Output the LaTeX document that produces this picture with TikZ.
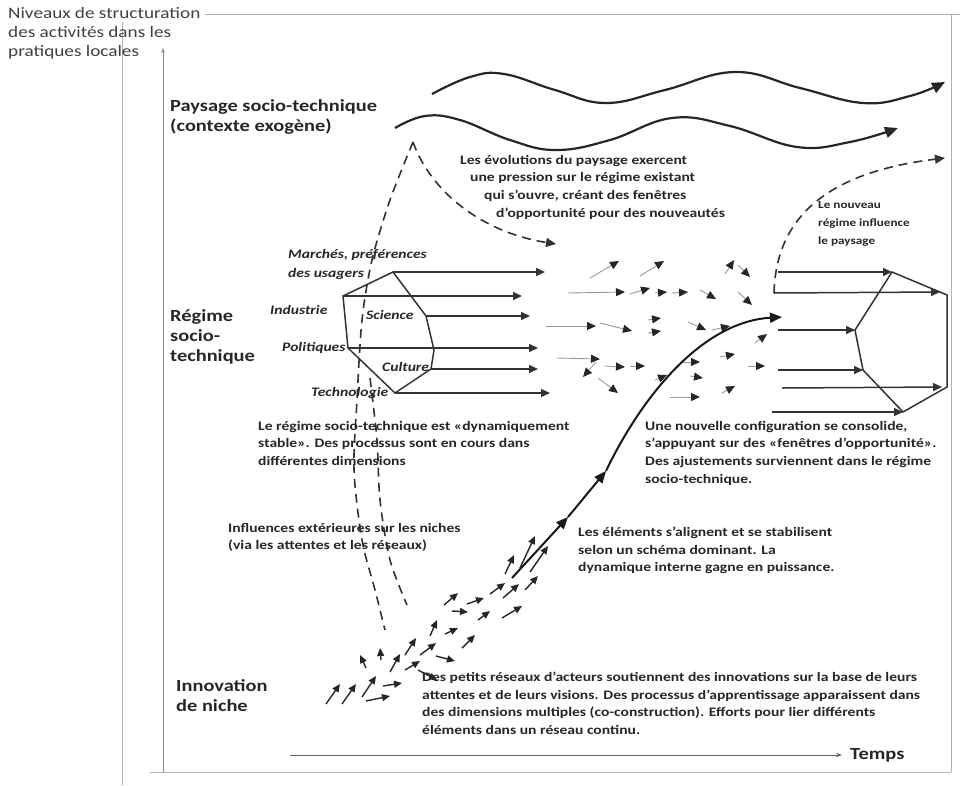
\documentclass[tikz,border=0pt]{standalone}
\usepackage{fontspec}
\setmainfont{Carlito}[FakeStretch=1.2]
\usetikzlibrary{positioning, arrows.meta}

\begin{document}
\begin{tikzpicture}[
    x=1pt, y=-1pt,
    cadre/.style={draw=black!30, line width=0.9pt},
    niveau/.style={anchor=north west, align=left, inner sep=0pt,
      font=\fontsize{17}{20}\selectfont\bfseries, text=black!85},
    note/.style={anchor=north west, align=left, inner sep=0pt,
      font=\fontsize{13}{17.6}\selectfont\bfseries, text=black!85},
    dimension/.style={anchor=west, align=left, inner sep=0pt,
      font=\fontsize{13}{19}\selectfont\bfseries\itshape, text=black!85},
    vague/.style={black!85, line width=2.2pt, -{Triangle[length=13pt,width=11pt]}},
    influence/.style={black!80, line width=1.6pt, dash pattern=on 9pt off 6pt},
    flux/.style={black!80, line width=1.5pt, -{Triangle[length=9pt,width=8pt]}},
    essaim/.style={black!40, line width=0.9pt,
      -{Triangle[length=9pt,width=8pt,color=black!85]}},
    pousse/.style={black!85, line width=1.4pt, -{Triangle[length=8pt,width=7pt]}},
    trajet/.style={black!90, line width=2pt, -{Triangle[length=12pt,width=10pt]}},
    bord/.style={draw=black!80, line width=1.5pt}
    ]
    \useasboundingbox (0,0) rectangle (960,785);

    % Cadre et axes
    \draw[cadre] (205,14) -- (960,14);
    \draw[cadre] (951,14) -- (951,772);
    \draw[cadre] (150,772) -- (951,772);
    \draw[cadre] (122,22) -- (122,785);
    \coordinate (axe0) at (163,772);
    \coordinate (axe1) at (163,48);
    \draw[black!45, line width=0.9pt, -{Stealth[length=5pt,width=4pt]}] (axe0) -- (axe1);
    \node[anchor=north west, align=left, inner sep=0pt, text=black!75,
      font=\fontsize{16}{19}\selectfont] (axeTitre) at (8,7)
    {Niveaux de structuration\\des activités dans les\\pratiques locales};

    \coordinate (t0) at (290,755);
    \coordinate (t1) at (842,755);
    \draw[black!60, line width=1pt, -{Stealth[length=6pt]}] (t0) -- (t1);
    \node[niveau, right=8pt of t1] (temps) {Temps};

    % Niveaux
    \node[niveau] (paysage) at (170,99) {Paysage socio-technique\\(contexte exogène)};
    \node[niveau] (regime) at (170,309) {Régime\\socio-\\technique};
    \node[niveau] (innovation) at (176,679) {Innovation\\de niche};

    % Paysage
    \draw[vague] plot[smooth, tension=0.7] coordinates {(432,94) (470,77) (504,74)
      (555,90) (606,103) (665,90) (735,72) (800,88) (863,103) (910,96) (945,82)};
    \draw[vague] plot[smooth, tension=0.7] coordinates {(395,128) (425,116) (460,120)
      (510,140) (556,150) (610,140) (672,118) (730,126) (797,147) (850,142) (898,128)};

    % Influences du paysage
    \coordinate (pBas) at (413,142);
    \coordinate (pRegime) at (556,244);
    \draw[influence, -{Triangle[length=10pt,width=9pt]}] (pBas)
    .. controls (430,190) and (480,232) .. (pRegime);
    \draw[influence] plot[smooth] coordinates {(pBas) (390,200) (372,260) (362,320)
      (357,400) (354,470) (362,540) (375,590) (385,630)};
    \draw[influence] plot[smooth] coordinates {(370,378) (377,440) (380,500)
      (390,560) (407,605)};

    % Regime existant
    \coordinate (g1) at (393,272);
    \coordinate (g2) at (426,316);
    \coordinate (g3) at (434,350);
    \coordinate (g4) at (431,369);
    \coordinate (g5) at (395,393);
    \coordinate (g6) at (348,348);
    \coordinate (g7) at (343,296);
    \draw[bord] (g1) -- (g2) -- (g3) -- (g4) -- (g5) -- (g6) -- (g7) -- cycle;

    \coordinate (e1) at (545,272);
    \coordinate (e2) at (522,296);
    \coordinate (e3) at (530,316);
    \coordinate (e4) at (538,348);
    \coordinate (e5) at (538,369);
    \coordinate (e6) at (550,393);
    \draw[flux] (g1) -- (e1);
    \draw[flux] (g7) -- (e2);
    \draw[flux] (g2) -- (e3);
    \draw[flux] (g6) -- (e4);
    \draw[flux] (g4) -- (e5);
    \draw[flux] (g5) -- (e6);

    \node[dimension, anchor=north west] (marches) at (288,249)
    {Marchés, préférences\\des usagers};
    \node[dimension] (industrie) at (270,310) {Industrie};
    \node[dimension] (science) at (366,315) {Science};
    \node[dimension] (politiques) at (282,348) {Politiques};
    \node[dimension] (culture) at (382,367) {Culture};
    \node[dimension] (technologie) at (311,393) {Technologie};

    % Essaim
    \foreach \xa/\ya/\xb/\yb in {590/278/619/261, 640/276/664/261, 725/274/734/260,
      738/265/750/277, 568/293/625/292, 630/294/650/288, 655/293/667/292,
      672/293/688/292, 700/290/716/299, 738/292/752/305, 546/326/596/326,
      600/323/632/331, 648/320/661/318, 648/333/661/331, 688/322/706/330,
      712/330/730/326, 755/343/767/334, 557/358/600/359, 596/362/583/377,
      605/366/625/367, 630/366/645/366, 598/378/618/393, 655/380/667/375,
      680/362/700/362, 690/376/703/378, 670/397/700/397, 720/357/735/354,
      748/366/765/366, 722/393/735/386}
    \draw[essaim] (\xa,\ya) -- (\xb,\yb);

    % Nouveau regime
    \coordinate (n1) at (892,272);
    \coordinate (n2) at (947,295);
    \coordinate (n3) at (947,387);
    \coordinate (n4) at (903,412);
    \coordinate (n5) at (863,370);
    \coordinate (n6) at (855,330);
    \draw[bord] (n1) -- (n2) -- (n3) -- (n4) -- (n5) -- (n6) -- cycle;

    \coordinate (s1) at (778,272);
    \coordinate (s2) at (774,293);
    \coordinate (s3) at (778,330);
    \coordinate (s4) at (778,370);
    \coordinate (s5) at (782,388);
    \coordinate (s6) at (772,412);
    \coordinate (n12) at (940,292);
    \coordinate (n23) at (942,387);
    \draw[flux] (s1) -- (n1);
    \draw[flux] (s2) -- (n12);
    \draw[flux] (s3) -- (n6);
    \draw[flux] (s4) -- (n5);
    \draw[flux] (s5) -- (n23);
    \draw[flux] (s6) -- (n4);

    \coordinate (pHaut) at (945,158);
    \draw[influence, -{Triangle[length=10pt,width=9pt]}] (s2)
    .. controls (776,215) and (830,172) .. (pHaut);

    % Niches
    \foreach \xa/\ya/\xb/\yb in {326/704/340/684, 342/704/356/684, 362/697/376/676,
      366/701/390/696, 383/686/402/683, 366/668/360/655, 381/660/380/648,
      390/672/400/654, 405/655/416/638, 405/670/420/661, 420/655/436/643,
      418/670/437/680, 436/656/455/661, 430/636/437/620, 445/634/458/628,
      462/648/475/635, 444/605/458/593, 452/611/468/612, 478/620/490/611,
      467/604/484/598, 490/594/505/583, 502/618/522/606, 503/598/519/584,
      505/574/514/555, 520/568/535/536, 530/572/548/546, 525/590/538/576}
    \draw[pousse] (\xa,\ya) -- (\xb,\yb);

    \coordinate (c0) at (512,578);
    \coordinate (c1) at (568,517);
    \coordinate (c2) at (606,471);
    \coordinate (c3) at (782,317);
    \draw[trajet] (c0) -- (c1);
    \draw[trajet] (c1) -- (c2);
    \draw[trajet] (c2) .. controls (640,400) and (700,322) .. (c3);

    % Textes
    \node[note] (pression) at (460,155)
    {Les évolutions du paysage exercent\\\hspace*{10pt}une pression sur le régime existant\\
      \hspace*{24pt}qui s'ouvre, créant des fenêtres\\\hspace*{36pt}d'opportunité pour des nouveautés};
    \node[note, font=\fontsize{11}{18}\selectfont\bfseries] (nouveau) at (818,201)
    {Le nouveau\\régime influence\\le paysage};
    \node[note] (stable) at (258,421)
    {Le régime socio-technique est «dynamiquement\\stable». Des processus sont en cours dans\\différentes dimensions};
    \node[note] (exterieur) at (228,523)
    {Influences extérieures sur les niches\\(via les attentes et les réseaux)};
    \node[note] (consolide) at (645,421)
    {Une nouvelle configuration se consolide,\\s'appuyant sur des «fenêtres d'opportunité».\\Des ajustements surviennent dans le régime\\socio-technique.};
    \node[note] (aligne) at (578,527)
    {Les éléments s'alignent et se stabilisent\\selon un schéma dominant. La\\dynamique interne gagne en puissance.};
    \node[note] (reseaux) at (422,672)
    {Des petits réseaux d'acteurs soutiennent des innovations sur la base de leurs\\attentes et de leurs visions. Des processus d'apprentissage apparaissent dans\\des dimensions multiples (co-construction). Efforts pour lier différents\\éléments dans un réseau continu.};

  \end{tikzpicture}
\end{document}
